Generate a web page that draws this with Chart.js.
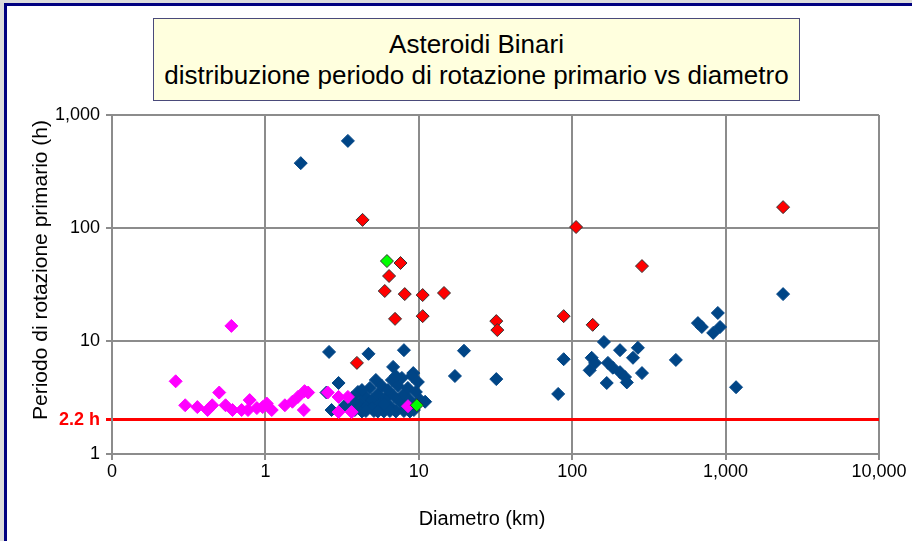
<!DOCTYPE html>
<html>
<head>
<meta charset="utf-8">
<script src="https://cdn.jsdelivr.net/npm/chart.js@4/dist/chart.umd.min.js"></script>
<style>
    body { margin: 0; background: #dcdcdc; width: 912px; height: 541px; overflow: hidden; position: relative; font-family: 'Liberation Sans', Arial, sans-serif; }
    #frame { position: absolute; left: 4px; top: 3px; width: 1000px; height: 600px; background: #fff; border-left: 3px solid #000080; border-top: 3px solid #000080; }
    #titleBox { position: absolute; left: 153px; top: 18px; width: 645px; background: #ffffde; border: 1px solid #4a4a7a; text-align: center; font-size: 26px; line-height: 31px; padding-top: 10px; box-sizing: content-box; height: 71px; }
    #chart { position: absolute; left: 0; top: 0; }
</style>
</head>
<body>
<div id="frame"></div>
<div id="titleBox">Asteroidi Binari<br>distribuzione periodo di rotazione primario vs diametro</div>
<canvas id="chart" width="912" height="541"></canvas>
<script>
// [diametro km, periodo h]
const gruppoBlu = [
    [1.7, 375], [3.45, 590], [2.6, 8.0], [4.7, 7.7], [8.0, 8.3], [19.7, 8.2], [17.2, 4.9], [32, 4.6],
    [88, 6.9], [81, 3.4], [161, 9.8], [205, 8.3], [268, 8.7], [134, 7.1], [141, 6.4], [130, 5.5],
    [249, 7.1], [171, 6.4], [184, 5.8], [205, 5.3], [221, 4.8], [227, 4.3], [168, 4.25], [285, 5.2],
    [474, 6.8], [660, 14.4], [700, 13.3], [890, 17.7], [830, 11.8], [920, 13.3], [1170, 3.9], [2370, 26],
    [6.8, 5.9], [9.2, 5.2], [3.0, 4.25], [11.0, 2.9], [2.7, 2.45], [3.3, 2.7], [2.5, 3.5],
    [3.66, 3.13], [3.83, 2.45], [4.01, 3.54], [4.13, 2.83], [4.26, 2.38], [4.45, 3.26], [4.59, 2.66],
    [4.80, 3.84], [4.95, 3.01], [5.10, 2.40], [5.25, 4.52], [5.41, 3.40], [5.58, 2.77], [5.75, 4.00],
    [5.92, 2.38], [6.10, 3.13], [6.29, 3.68], [6.48, 2.66], [6.68, 4.52], [6.88, 3.26], [7.09, 2.38],
    [7.31, 4.00], [7.53, 2.88], [7.76, 4.71], [8.00, 3.40], [8.24, 2.55], [8.49, 3.84], [8.75, 3.01],
    [9.02, 4.90], [9.29, 2.45], [9.57, 3.54], [9.86, 4.34], [10.2, 3.01], [7.09, 4.90], [5.92, 2.77],
    [4.95, 2.55], [4.26, 3.68], [8.00, 2.40], [6.48, 2.40], [8.75, 2.38], [5.41, 2.38], [4.52, 2.40],
    [3.89, 2.77]
];
const gruppoMagenta = [
    [0.6, 13.6], [0.26, 4.4], [0.30, 2.7], [0.36, 2.6], [0.42, 2.45], [0.45, 2.7], [0.50, 3.5],
    [0.55, 2.7], [0.61, 2.45], [0.70, 2.45], [0.79, 3.0], [0.77, 2.45], [0.88, 2.55], [0.96, 2.6],
    [1.02, 2.8], [1.1, 2.45], [1.34, 2.7], [1.5, 2.9], [1.63, 3.2], [1.8, 3.6], [1.9, 3.5], [1.78, 2.45],
    [2.55, 3.5], [3.0, 3.2], [3.45, 3.2], [3.0, 2.35], [3.65, 2.35], [8.5, 2.65]
];
const gruppoRosso = [
    [4.3, 118], [7.6, 49], [6.4, 37.6], [6.0, 27.7], [8.1, 26], [10.6, 25.5], [14.6, 26.6], [7.0, 15.7],
    [10.6, 16.6], [3.95, 6.4], [32, 15], [32.5, 12.5], [88, 16.6], [136, 13.9], [106, 102], [285, 46],
    [2370, 153]
];
const gruppoVerde = [[6.2, 51], [9.7, 2.7]];

const xTickValues = [0.1, 1, 10, 100, 1000, 10000];
const xTickLabels = ['0', '1', '10', '100', '1,000', '10,000'];
const limiteRotazione = 2.0; // linea rossa
const yTickValues = [1, limiteRotazione, 10, 100, 1000];
const yTickLabels = ['1', '2.2 h', '10', '100', '1,000'];

const fontFam = '"Liberation Sans", Arial, sans-serif';

function toPoints(list) {
    return list.map(function (p) { return { x: p[0], y: p[1] }; });
}

function serie(list, fill, border, order) {
    return {
        data: toPoints(list),
        pointStyle: 'rectRot',
        pointRadius: 6.5,
        backgroundColor: fill,
        borderColor: border,
        borderWidth: 1,
        order: order
    };
}

// titoli degli assi
const axisTitles = {
    id: 'axisTitles',
    afterDraw(chart) {
        const ctx = chart.ctx;
        ctx.save();
        ctx.fillStyle = '#000';
        ctx.font = '20px ' + fontFam;
        ctx.textAlign = 'center';
        ctx.textBaseline = 'middle';
        ctx.fillText('Diametro (km)', 482, 519);
        ctx.translate(41, 270);
        ctx.rotate(-Math.PI / 2);
        ctx.font = '21px ' + fontFam;
        ctx.fillText('Periodo di rotazione primario (h)', 0, 0);
        ctx.restore();
    }
};

const gridColor = '#8c8c8c';
const isLimit = (c) => c.tick && c.tick.value === limiteRotazione;

new Chart(document.getElementById('chart'), {
    type: 'scatter',
    data: {
        datasets: [
            serie(gruppoVerde, '#00ff00', '#333333', 1),
            serie(gruppoRosso, '#ff0000', '#333333', 2),
            serie(gruppoMagenta, '#ff00ff', '#ff00ff', 3),
            serie(gruppoBlu, '#004586', '#004586', 4)
        ]
    },
    options: {
        responsive: false,
        animation: false,
        events: [],
        layout: { padding: { top: 115, right: 33, left: 0, bottom: 0 } },
        plugins: { legend: { display: false }, tooltip: { enabled: false } },
        scales: {
            x: {
                type: 'logarithmic',
                min: 0.1,
                max: 10000,
                afterBuildTicks: (s) => { s.ticks = xTickValues.map(v => ({ value: v })); },
                afterFit: (s) => { s.height = 87; },
                ticks: {
                    callback: (v) => xTickLabels[xTickValues.indexOf(v)],
                    color: '#000',
                    font: { size: 18, family: fontFam },
                    padding: 1,
                    maxRotation: 0,
                    autoSkip: false
                },
                grid: { color: gridColor, lineWidth: 2, tickLength: 6 },
                border: { color: gridColor, width: 2 }
            },
            y: {
                type: 'logarithmic',
                min: 1,
                max: 1000,
                afterBuildTicks: (s) => { s.ticks = yTickValues.map(v => ({ value: v })); },
                afterFit: (s) => { s.width = 112; },
                ticks: {
                    callback: (v) => yTickLabels[yTickValues.indexOf(v)],
                    color: (c) => isLimit(c) ? '#ff0000' : '#000',
                    font: (c) => isLimit(c)
                        ? { size: 18, weight: 'bold', family: fontFam }
                        : { size: 18, family: fontFam },
                    padding: 6,
                    autoSkip: false
                },
                grid: {
                    color: (c) => isLimit(c) ? '#ff0000' : gridColor,
                    lineWidth: (c) => isLimit(c) ? 3 : 2,
                    tickLength: 6
                },
                border: { color: gridColor, width: 2 }
            }
        }
    },
    plugins: [axisTitles]
});
</script>
</body>
</html>
